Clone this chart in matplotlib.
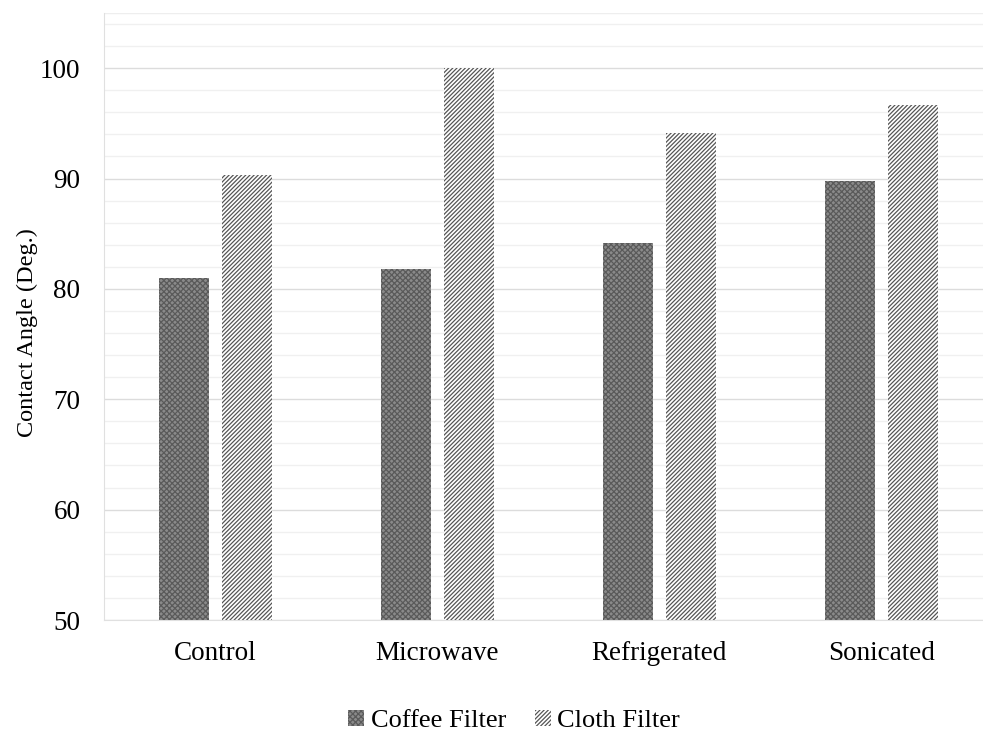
import matplotlib
matplotlib.use("Agg")
import matplotlib.pyplot as plt
import numpy as np
from matplotlib.ticker import MultipleLocator

plt.rcParams['font.family'] = ['Liberation Serif', 'DejaVu Serif']
plt.rcParams['hatch.linewidth'] = 0.9

categories = ["Control", "Microwave", "Refrigerated", "Sonicated"]
coffee_filter = [81.0, 81.8, 84.15, 89.75]
cloth_filter = [90.3, 100.0, 94.1, 96.7]
series_names = ["Coffee Filter", "Cloth Filter"]

W, H = 983, 733
fig = plt.figure(figsize=(W / 100, H / 100), dpi=100)
ax = fig.add_axes([104 / W, (H - 620) / H, (983 - 104) / W, (620 - 13) / H])

x = np.arange(len(categories))
bw = 0.225
off = 0.142

ax.bar(x - off, coffee_filter, bw, color='#8a8a8a',
       hatch='xxxxxx', edgecolor='#5a5a5a', linewidth=0, label=series_names[0], zorder=3)
ax.bar(x + off, cloth_filter, bw, color='white',
       hatch='////////', edgecolor='#555555', linewidth=0, label=series_names[1], zorder=3)

ax.set_ylim(50, 105)
ax.set_xlim(-0.5, 3.457)
ax.yaxis.set_major_locator(MultipleLocator(10))
ax.yaxis.set_minor_locator(MultipleLocator(2))
ax.set_yticks([50, 60, 70, 80, 90, 100])
ax.grid(axis='y', which='major', color='#dcdcdc', linewidth=1.0, zorder=0)
ax.grid(axis='y', which='minor', color='#f0f0f0', linewidth=1.0, zorder=0)
ax.axhline(105, color='#eeeeee', linewidth=1.0, zorder=0)

ax.set_xticks(x)
ax.set_xticklabels(categories, fontsize=19.5)
ax.tick_params(axis='y', labelsize=19.5, length=0, pad=17)
ax.tick_params(axis='x', length=0, pad=15)
ax.tick_params(which='minor', length=0)

for s in ['top', 'right']:
    ax.spines[s].set_visible(False)
ax.spines['left'].set_color('#e0e0e0')
ax.spines['bottom'].set_color('#e0e0e0')

ax.set_ylabel("Contact Angle (Deg.)", fontsize=17.5)
ax.yaxis.set_label_coords(-0.075, 0.474)

leg = fig.legend(loc='center', bbox_to_anchor=(0.523, (H - 721) / H), ncol=2,
                 frameon=False, fontsize=19, handlelength=0.6, handleheight=0.6,
                 handletextpad=0.25, columnspacing=1.1)

fig.savefig("out.png", dpi=100)
